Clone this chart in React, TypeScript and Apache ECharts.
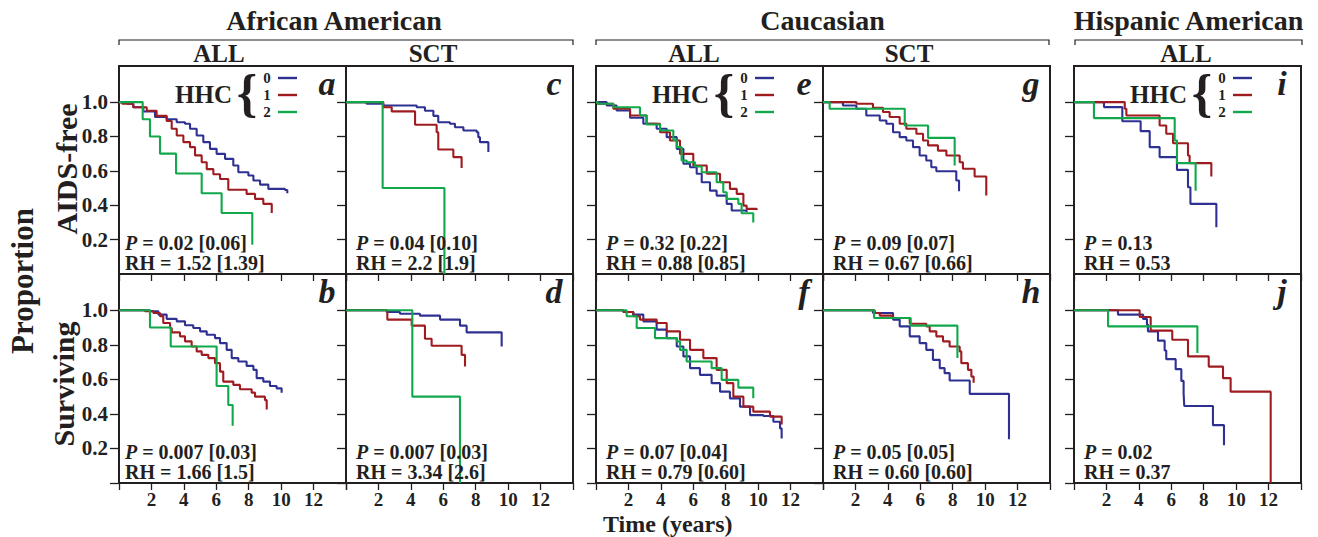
import React, { useEffect, useRef } from 'react';
import * as echarts from 'echarts';

type Pt = [number, number];

// ---------- data ----------
const xTickLabels = ['2', '4', '6', '8', '10', '12'];
const yTickValues = [0.2, 0.4, 0.6, 0.8, 1.0];
const hhcLevels = ['0', '1', '2'];
const hhcColors = ['#2e3192', '#9e1b20', '#10a84b'];

const groupTitles = ['African American', 'Caucasian', 'Hispanic American'];
const columnSubsets = ['ALL', 'SCT', 'ALL', 'SCT', 'ALL'];
const rowTitles = ['AIDS-free', 'Surviving'];
const panelLetters = ['a', 'c', 'e', 'g', 'i', 'b', 'd', 'f', 'h', 'j'];
const pValues = ['0.02 [0.06]', '0.04 [0.10]', '0.32 [0.22]', '0.09 [0.07]', '0.13',
  '0.007 [0.03]', '0.007 [0.03]', '0.07 [0.04]', '0.05 [0.05]', '0.02'];
const rhValues = ['1.52 [1.39]', '2.2 [1.9]', '0.88 [0.85]', '0.67 [0.66]', '0.53',
  '1.66 [1.5]', '3.34 [2.6]', '0.79 [0.60]', '0.60 [0.60]', '0.37'];

// AIDS-free, African American, ALL (a)
const a0: Pt[] = [[0, 1], [0.5, 0.99], [0.88, 0.97], [1.5, 0.945], [2.22, 0.913], [2.94, 0.9], [3.56, 0.883], [4.07, 0.874], [4.38, 0.845], [4.79, 0.806], [5.2, 0.767], [5.61, 0.728], [6.02, 0.699], [6.54, 0.67], [7.05, 0.631], [7.36, 0.592], [7.98, 0.573], [8.29, 0.544], [8.7, 0.52], [9.21, 0.495], [10.24, 0.489], [10.38, 0.47]];
const a1: Pt[] = [[0, 1], [0.2, 0.99], [0.88, 0.97], [1.71, 0.95], [2.32, 0.92], [2.94, 0.89], [3.25, 0.845], [3.56, 0.806], [3.97, 0.767], [4.38, 0.738], [4.69, 0.69], [5.1, 0.65], [5.41, 0.61], [5.82, 0.58], [6.23, 0.553], [6.74, 0.49], [7.87, 0.466], [8.39, 0.437], [8.9, 0.408], [9.42, 0.355]];
const a2: Pt[] = [[0, 1], [1.46, 0.9], [1.91, 0.8], [2.53, 0.7], [3.52, 0.585], [5.1, 0.47], [6.33, 0.355], [8.22, 0.17]];
// AIDS-free, African American, SCT (c)
const c0: Pt[] = [[0, 1], [1.27, 0.99], [2.3, 0.98], [4.36, 0.97], [4.87, 0.95], [5.39, 0.92], [5.69, 0.883], [6.41, 0.874], [6.72, 0.854], [7.24, 0.835], [8.06, 0.825], [8.16, 0.796], [8.26, 0.767], [8.78, 0.709]];
const c1: Pt[] = [[0, 1], [2.3, 0.97], [2.82, 0.946], [4.26, 0.868], [5.59, 0.825], [5.69, 0.724], [6.62, 0.68], [7.13, 0.616]];
const c2: Pt[] = [[0, 1], [2.26, 0.5], [6.07, 0]];
// AIDS-free, Caucasian, ALL (e)
const e0: Pt[] = [[0, 1], [0.66, 0.98], [1.27, 0.951], [2.1, 0.909], [2.92, 0.874], [3.74, 0.845], [4.36, 0.796], [4.98, 0.728], [5.39, 0.641], [5.8, 0.621], [6.21, 0.583], [6.52, 0.534], [7.03, 0.485], [7.44, 0.456], [8.06, 0.408], [8.37, 0.369], [9.29, 0.36]];
const e1: Pt[] = [[0, 1], [0.1, 0.99], [1.07, 0.961], [2.1, 0.922], [3.12, 0.874], [3.95, 0.825], [4.56, 0.777], [5.18, 0.699], [6.0, 0.631], [6.83, 0.583], [7.65, 0.534], [8.26, 0.495], [8.68, 0.466], [9.09, 0.398], [9.29, 0.379], [9.91, 0.373]];
const e2: Pt[] = [[0, 1], [0.1, 0.99], [1.07, 0.97], [2.71, 0.922], [3.12, 0.87], [3.95, 0.835], [4.77, 0.78], [4.98, 0.738], [5.28, 0.66], [5.59, 0.65], [6.11, 0.625], [6.52, 0.592], [7.44, 0.534], [7.85, 0.476], [8.06, 0.437], [8.78, 0.408], [8.98, 0.353], [9.7, 0.3]];
// AIDS-free, Caucasian, SCT (g)
const g0: Pt[] = [[0, 1], [1.23, 0.98], [2.06, 0.961], [2.67, 0.922], [3.5, 0.893], [3.91, 0.874], [4.32, 0.825], [4.73, 0.796], [5.14, 0.777], [5.55, 0.738], [5.96, 0.689], [6.37, 0.66], [6.68, 0.621], [6.99, 0.598], [8.22, 0.544], [8.39, 0.482]];
const g1: Pt[] = [[0, 1], [2.06, 0.99], [3.08, 0.967], [3.7, 0.942], [4.11, 0.913], [4.73, 0.874], [5.14, 0.845], [5.76, 0.816], [6.17, 0.777], [6.48, 0.748], [7.09, 0.718], [7.61, 0.689], [8.43, 0.65], [8.63, 0.612], [9.35, 0.567], [10.07, 0.456]];
const g2: Pt[] = [[0, 1], [0.41, 0.961], [5.04, 0.864], [6.48, 0.792], [8.12, 0.631]];
// AIDS-free, Hispanic American, ALL (i)
const i0: Pt[] = [[0, 1], [1.85, 0.971], [2.98, 0.889], [4.11, 0.831], [4.67, 0.738], [5.28, 0.68], [6.35, 0.606], [7.03, 0.505], [7.18, 0.408], [8.78, 0.272]];
const i1: Pt[] = [[0, 1], [3.13, 0.961], [3.23, 0.922], [5.28, 0.864], [5.69, 0.816], [6.11, 0.761], [7.03, 0.689], [7.13, 0.645], [8.47, 0.567]];
const i2: Pt[] = [[0, 1], [1.23, 0.907], [6.21, 0.777], [6.35, 0.645], [7.5, 0.485]];
// Surviving, African American, ALL (b)
const b0: Pt[] = [[0, 1], [1.91, 0.994], [2.43, 0.975], [2.94, 0.95], [3.56, 0.936], [4.07, 0.913], [4.58, 0.897], [5.0, 0.878], [5.41, 0.858], [5.92, 0.839], [6.23, 0.81], [6.64, 0.771], [6.95, 0.723], [7.36, 0.703], [7.87, 0.678], [8.29, 0.655], [8.49, 0.607], [8.9, 0.587], [9.31, 0.562], [9.72, 0.548], [10.03, 0.523]];
const b1: Pt[] = [[0, 1], [1.6, 0.994], [2.12, 0.984], [2.53, 0.965], [2.73, 0.926], [3.15, 0.897], [3.25, 0.872], [3.76, 0.849], [4.07, 0.82], [4.48, 0.79], [4.79, 0.762], [5.1, 0.742], [5.51, 0.723], [5.92, 0.694], [6.23, 0.645], [6.43, 0.587], [7.05, 0.568], [7.46, 0.543], [8.18, 0.523], [8.39, 0.5], [9.0, 0.48], [9.11, 0.426]];
const b2: Pt[] = [[0, 1], [1.91, 0.9], [3.19, 0.79], [6.02, 0.562], [6.74, 0.452], [7.01, 0.331]];
// Surviving, African American, SCT (d)
const d0: Pt[] = [[0, 1], [2.51, 0.99], [3.33, 0.98], [4.56, 0.969], [5.8, 0.946], [7.03, 0.911], [7.44, 0.872], [9.6, 0.79]];
const d1: Pt[] = [[0, 1], [2.55, 0.946], [4.05, 0.911], [4.87, 0.835], [5.28, 0.795], [7.13, 0.742], [7.34, 0.674]];
const d2: Pt[] = [[0, 1], [4.09, 0.5], [7.03, 0]];
// Surviving, Caucasian, ALL (f)
const f0: Pt[] = [[0, 1], [1.69, 0.99], [2.3, 0.975], [2.92, 0.936], [3.74, 0.888], [4.36, 0.839], [4.98, 0.79], [5.39, 0.733], [5.8, 0.665], [6.41, 0.626], [7.13, 0.578], [7.65, 0.529], [8.26, 0.49], [8.88, 0.442], [9.5, 0.393], [10.32, 0.388], [10.94, 0.355], [11.35, 0.316], [11.45, 0.258]];
const f1: Pt[] = [[0, 1], [1.69, 0.99], [2.3, 0.965], [2.71, 0.946], [3.74, 0.926], [4.36, 0.878], [5.18, 0.829], [5.8, 0.771], [6.62, 0.723], [7.44, 0.655], [8.06, 0.578], [8.47, 0.5], [9.09, 0.442], [9.7, 0.413], [10.73, 0.384], [11.45, 0.339]];
const f2: Pt[] = [[0, 1], [1.89, 0.965], [2.51, 0.897], [3.64, 0.839], [4.98, 0.82], [5.18, 0.771], [5.59, 0.703], [7.13, 0.665], [7.75, 0.597], [8.78, 0.552], [9.7, 0.49]];
// Surviving, Caucasian, SCT (h)
const h0: Pt[] = [[0, 1], [3.08, 0.984], [4.32, 0.946], [4.73, 0.907], [5.35, 0.849], [5.96, 0.81], [6.37, 0.771], [6.78, 0.713], [7.2, 0.665], [7.5, 0.636], [7.81, 0.593], [9.05, 0.516], [11.47, 0.254]];
const h1: Pt[] = [[0, 1], [3.19, 0.984], [3.5, 0.969], [4.32, 0.955], [5.35, 0.922], [6.37, 0.907], [6.58, 0.878], [6.99, 0.849], [7.4, 0.82], [7.81, 0.79], [8.43, 0.762], [8.53, 0.694], [8.94, 0.655], [9.15, 0.616], [9.29, 0.581]];
const h2: Pt[] = [[0, 1], [3.15, 0.955], [5.41, 0.911], [8.29, 0.723]];
// Surviving, Hispanic American, ALL (j)
const j0: Pt[] = [[0, 1], [2.71, 0.975], [4.26, 0.95], [4.5, 0.917], [4.56, 0.878], [5.18, 0.824], [5.59, 0.767], [5.69, 0.717], [6.27, 0.659], [6.62, 0.591], [6.76, 0.519], [6.8, 0.446], [8.57, 0.335], [9.25, 0.219]];
const j1: Pt[] = [[0, 1], [4.05, 0.961], [4.73, 0.882], [6.06, 0.829], [7.03, 0.733], [8.31, 0.674], [9.19, 0.607], [9.66, 0.529], [12.13, 0]];
const j2: Pt[] = [[0, 1], [2.1, 0.907], [7.61, 0.752]];

const panelCurves: Pt[][][] = [
  [a0, a1, a2], [c0, c1, c2], [e0, e1, e2], [g0, g1, g2], [i0, i1, i2],
  [b0, b1, b2], [d0, d1, d2], [f0, f1, f2], [h0, h1, h2], [j0, j1, j2],
];
const legendPanels = ['a', 'e', 'i'];

// ---------- layout ----------
const FONT = '"Liberation Serif", "Times New Roman", Times, serif';
const INK = '#231f20';
const colLeft = [119, 346, 596, 823, 1074];
const rowTop = [66, 274];
const rowHeight = [208, 209];
const PANEL_W = 227;
const Y_MAX = 1.21;
const groupSpans: [number, number][] = [[119, 573], [596, 1049], [1075, 1302]];
const subsetCenters = [219, 433, 694, 909, 1186];

function buildOption() {
  const grid: any[] = [];
  const xAxis: any[] = [];
  const yAxis: any[] = [];
  const series: any[] = [];
  const graphic: any[] = [];

  panelCurves.forEach((curves, idx) => {
    const row = idx < 5 ? 0 : 1;
    const col = idx % 5;
    const left = colLeft[col];
    const top = rowTop[row];
    const h = rowHeight[row];
    grid.push({ left, top, width: PANEL_W, height: h, show: true, borderColor: INK, borderWidth: 2, backgroundColor: 'transparent' });
    xAxis.push({
      gridIndex: idx, type: 'value', min: 0, max: 14, interval: 2,
      axisLine: { show: false }, splitLine: { show: false },
      axisTick: { show: true, length: 7, lineStyle: { color: INK, width: 1.3 } },
      axisLabel: {
        show: row === 1, margin: 7, fontFamily: FONT, fontWeight: 'bold', fontSize: 19, color: INK,
        formatter: (v: number) => (xTickLabels.includes(String(v)) ? String(v) : ''),
      },
    });
    yAxis.push({
      gridIndex: idx, type: 'value', min: 0, max: Y_MAX,
      axisLine: { show: false }, splitLine: { show: false },
      axisTick: { show: true, length: 9, customValues: row === 0 ? yTickValues : [0, ...yTickValues], lineStyle: { color: INK, width: 1.3 } },
      axisLabel: {
        show: col === 0, customValues: yTickValues, margin: 11, fontFamily: FONT, fontWeight: 'bold', fontSize: 21, color: INK,
        formatter: (v: number) => v.toFixed(1),
      },
    });
    curves.forEach((data, k) => {
      series.push({
        type: 'line', name: `${panelLetters[idx]}-HHC${hhcLevels[k]}`, xAxisIndex: idx, yAxisIndex: idx,
        data, step: 'end', symbol: 'none', showSymbol: false, clip: true, z: 3,
        lineStyle: { color: hhcColors[k], width: 2.1 }, itemStyle: { color: hhcColors[k] },
      });
    });

    const right = left + PANEL_W;
    const bottom = top + h;
    // panel letter
    graphic.push({
      type: 'text', x: right - 19, y: top + 17, z: 20,
      style: { text: panelLetters[idx], fill: INK, fontFamily: FONT, fontSize: 34, fontWeight: 'bold', fontStyle: 'italic', textAlign: 'center', textVerticalAlign: 'middle' },
    });
    // statistics
    const tx = left + (col === 0 ? 6 : 10);
    graphic.push({
      type: 'text', x: tx, y: bottom - 31, z: 20,
      style: {
        text: `{it|P} = ${pValues[idx]}`, fill: INK, fontFamily: FONT, fontSize: 20, fontWeight: 'bold', textAlign: 'left', textVerticalAlign: 'middle',
        rich: { it: { fontFamily: FONT, fontSize: 20, fontWeight: 'bold', fontStyle: 'italic', fill: INK } },
      },
    });
    graphic.push({
      type: 'text', x: tx, y: bottom - 11, z: 20,
      style: { text: `RH = ${rhValues[idx]}`, fill: INK, fontFamily: FONT, fontSize: 20, fontWeight: 'bold', textAlign: 'left', textVerticalAlign: 'middle' },
    });
    // legend
    if (legendPanels.includes(panelLetters[idx])) {
      graphic.push({
        type: 'text', x: left + 56, y: top + 28, z: 20,
        style: { text: 'HHC', fill: INK, fontFamily: FONT, fontSize: 25, fontWeight: 'bold', textAlign: 'left', textVerticalAlign: 'middle' },
      });
      graphic.push({
        type: 'text', x: left + 128, y: top + 27, z: 20,
        style: { text: '{', fill: INK, fontFamily: FONT, fontSize: 52, fontWeight: 'bold', textAlign: 'center', textVerticalAlign: 'middle' },
      });
      const ly = [top + 12, top + 29, top + 46];
      hhcLevels.forEach((lv, k) => {
        graphic.push({
          type: 'text', x: left + 148, y: ly[k], z: 20,
          style: { text: lv, fill: INK, fontFamily: FONT, fontSize: 15, fontWeight: 'bold', textAlign: 'center', textVerticalAlign: 'middle' },
        });
        graphic.push({
          type: 'line', z: 20,
          shape: { x1: left + 159, y1: ly[k], x2: left + 178, y2: ly[k] },
          style: { stroke: hhcColors[k], lineWidth: 2.4 },
        });
      });
    }
  });

  // group titles and brackets
  groupTitles.forEach((t, gi) => {
    const [x0, x1] = groupSpans[gi];
    graphic.push({
      type: 'text', x: (x0 + x1) / 2 - (gi === 0 ? 12 : 0), y: 20,
      style: { text: t, fill: INK, fontFamily: FONT, fontSize: 28, fontWeight: 'bold', textAlign: 'center', textVerticalAlign: 'middle' },
    });
    graphic.push({
      type: 'polyline',
      shape: { points: [[x0, 45], [x0, 40], [x1, 40], [x1, 45]] },
      style: { stroke: INK, lineWidth: 1.2, fill: 'none' },
    });
  });
  columnSubsets.forEach((s, ci) => {
    graphic.push({
      type: 'text', x: subsetCenters[ci], y: 53,
      style: { text: s, fill: INK, fontFamily: FONT, fontSize: 25, fontWeight: 'bold', textAlign: 'center', textVerticalAlign: 'middle' },
    });
  });
  // side titles
  graphic.push({
    type: 'text', x: 22, y: 281, rotation: Math.PI / 2,
    style: { text: 'Proportion', fill: INK, fontFamily: FONT, fontSize: 31, fontWeight: 'bold', textAlign: 'center', textVerticalAlign: 'middle' },
  });
  graphic.push({
    type: 'text', x: 66, y: 169, rotation: Math.PI / 2,
    style: { text: rowTitles[0], fill: INK, fontFamily: FONT, fontSize: 30, fontWeight: 'bold', textAlign: 'center', textVerticalAlign: 'middle' },
  });
  graphic.push({
    type: 'text', x: 63, y: 384, rotation: Math.PI / 2,
    style: { text: rowTitles[1], fill: INK, fontFamily: FONT, fontSize: 30, fontWeight: 'bold', textAlign: 'center', textVerticalAlign: 'middle' },
  });
  graphic.push({
    type: 'text', x: 603, y: 524,
    style: { text: 'Time (years)', fill: INK, fontFamily: FONT, fontSize: 24, fontWeight: 'bold', textAlign: 'left', textVerticalAlign: 'middle' },
  });

  return {
    animation: false,
    backgroundColor: '#ffffff',
    grid, xAxis, yAxis, series, graphic,
  };
}

export default function App() {
  const ref = useRef<HTMLDivElement>(null);
  useEffect(() => {
    document.body.style.margin = '0';
    if (!ref.current) return;
    const chart = echarts.init(ref.current, undefined, { renderer: 'svg' });
    chart.setOption(buildOption() as any);
    return () => chart.dispose();
  }, []);
  return <div ref={ref} style={{ width: 1318, height: 537 }} />;
}
